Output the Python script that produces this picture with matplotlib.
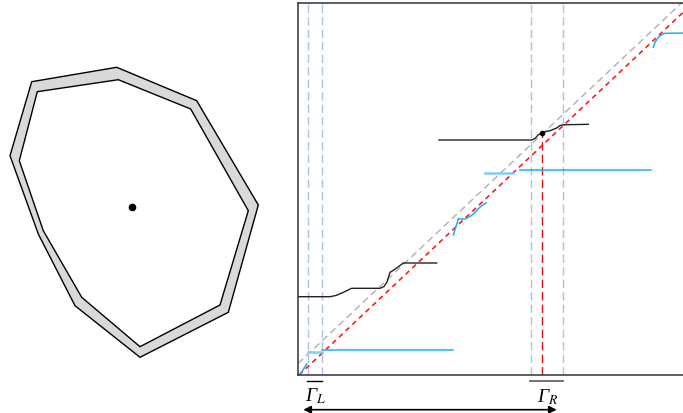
import matplotlib
matplotlib.use("Agg")
import matplotlib.pyplot as plt
from matplotlib.patches import Polygon

plt.rcParams['mathtext.fontset'] = 'stix'

# left panel: outer / inner polygon (pixel-like coords, y downwards)
outer_x = [31.7, 116.7, 196.7, 258.3, 228.3, 140.0, 75.0, 38.3, 10.0]
outer_y = [82.7, 68.3, 101.7, 206.0, 313.3, 358.3, 306.7, 235.0, 156.7]
inner_x = [37.3, 118.3, 190.7, 248.3, 220.0, 140.0, 81.7, 43.3, 19.3]
inner_y = [92.7, 80.7, 110.0, 211.7, 306.0, 347.7, 298.3, 231.7, 161.7]
center = (132.3, 208.3)

# right panel data
grey_x = [0, 392]
grey_y = [11.5, 11.5 + 0.94 * 392]
red_x = [1, 392]
red_y = [0, 0.944 * 391]
vlines_x = [10.3, 23.7, 233.0, 265.3]
fixed_pt = (243.5, 242.0)

black1_x = [0, 32, 38, 45, 53.7, 82, 86, 89, 92, 93.5, 98, 105.3, 138.7]
black1_y = [78.3, 78.3, 79.5, 82.5, 86.7, 86.7, 88.5, 93, 102.7, 103.5, 106.5, 112, 112]
black2_x = [141, 233.7, 237, 240, 243.5, 248, 252, 258.7, 262, 265.3, 290.3]
black2_y = [235, 235, 236.5, 240, 242.0, 243.5, 244.3, 247, 249.5, 250.2, 250.7]

blue_a_x = [2, 5, 8.7]
blue_a_y = [0, 5, 11]
blue_a2_x = [10.3, 23.7]
blue_a2_y = [23.3, 23.3]
blue_b_x = [23.7, 155.3]
blue_b_y = [25, 25]
blue_c_x = [155.3, 157.5, 159.3, 160.3]
blue_c_y = [140, 147, 152.7, 156]
blue_d_x = [160.3, 167, 172, 176, 180, 184, 188]
blue_d_y = [156, 156, 158.5, 161.5, 166, 169.5, 172]
blue_e_x = [187, 215.3]
blue_e_y = [202, 202]
blue_f_x = [222, 352.7]
blue_f_y = [205.3, 205.3]
blue_g_x = [355.3, 357, 360.3, 363.7, 367, 392]
blue_g_y = [327.7, 332.7, 337.7, 340.3, 341.7, 342]

labels = ['Γ$_L$', 'Γ$_R$']

W, H = 683, 414
fig = plt.figure(figsize=(W / 100, H / 100), dpi=100)

# ---- left panel
ax0 = fig.add_axes([0, 0, 290 / W, 1])
ax0.set_xlim(0, 290)
ax0.set_ylim(H, 0)
ax0.axis('off')
ax0.add_patch(Polygon(list(zip(outer_x, outer_y)), closed=True,
                      facecolor='#d9d9d9', edgecolor='black', lw=1.0))
ax0.add_patch(Polygon(list(zip(inner_x, inner_y)), closed=True,
                      facecolor='white', edgecolor='black', lw=1.0))
ax0.plot(*center, 'o', color='black', ms=4.5)

# ---- right panel
ax = fig.add_axes([298 / W, (H - 376) / H, 392 / W, 372 / H])
ax.set_xlim(0, 392)
ax.set_ylim(0, 372)
ax.set_xticks([])
ax.set_yticks([])
for s in ['left', 'bottom', 'top']:
    ax.spines[s].set_color('#333333')
    ax.spines[s].set_linewidth(1.1)
ax.spines['right'].set_visible(False)

for vx in vlines_x:
    ax.axvline(vx, color='#a9c4e3', lw=1.0, ls=(0, (6, 3)))

ax.plot(grey_x, grey_y, color='#b0b0b0', lw=1.0, ls=(0, (5, 3)))
ax.plot(red_x, red_y, color='#ff1a1a', lw=1.2, ls=(0, (3, 2.5)))
ax.plot([fixed_pt[0], fixed_pt[0]], [0, fixed_pt[1]], color='#dd1010',
        lw=1.0, ls=(0, (6, 3)))

blue = '#1cb0f0'
ax.plot(blue_a_x, blue_a_y, color=blue, lw=1.1)
ax.plot(blue_a2_x, blue_a2_y, color='#7fcff5', lw=1.8)
ax.plot(blue_b_x, blue_b_y, color=blue, lw=1.1)
ax.plot(blue_c_x, blue_c_y, color=blue, lw=1.1)
ax.plot(blue_d_x, blue_d_y, color=blue, lw=1.1)
ax.plot(blue_e_x, blue_e_y, color='#7fcff5', lw=1.8)
ax.plot(blue_f_x, blue_f_y, color=blue, lw=1.1)
ax.plot(blue_g_x, blue_g_y, color=blue, lw=1.1, clip_on=False)

ax.plot(black1_x, black1_y, color='#222222', lw=1.0)
ax.plot(black2_x, black2_y, color='#222222', lw=1.0)
ax.plot(*fixed_pt, 'o', color='black', ms=3)

# labels under the axis
ax.plot([8.7, 23.7], [-6.3, -6.3], color='black', lw=1.0, clip_on=False)
ax.plot([232, 265.3], [-5.7, -5.7], color='#666666', lw=1.3, clip_on=False)
ax.text(18, -20.5, labels[0], fontsize=14, ha='center', va='center',
        family='Liberation Serif', style='italic')
ax.text(249.5, -21.5, labels[1], fontsize=14, ha='center', va='center',
        family='Liberation Serif', style='italic')
ax.annotate('', xy=(258.7, -34.7), xytext=(5.3, -34.7), xycoords='data',
            arrowprops=dict(arrowstyle='<|-|>', color='black', lw=1.2,
                            mutation_scale=11, shrinkA=0, shrinkB=0),
            annotation_clip=False)

fig.savefig('out.png', dpi=100)
